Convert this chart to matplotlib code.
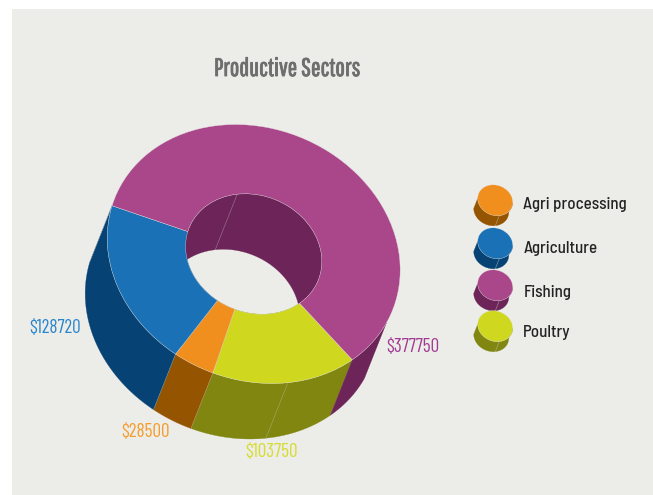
import numpy as np
import matplotlib
matplotlib.use("Agg")
import matplotlib.pyplot as plt
import matplotlib.patheffects as pe
from matplotlib import font_manager as fm
from matplotlib.patches import Polygon, Rectangle, Wedge
from matplotlib.transforms import Affine2D

sectors = ["Poultry", "Agri processing", "Agriculture", "Fishing"]
values = [103750, 28500, 128720, 377750]
legend_order = ["Agri processing", "Agriculture", "Fishing", "Poultry"]
top_colors = {"Agri processing": "#F18F1E", "Agriculture": "#1A71B6",
              "Fishing": "#AA478B", "Poultry": "#D0D71F"}
side_colors = {"Agri processing": "#955400", "Agriculture": "#064374",
               "Fishing": "#6C2459", "Poultry": "#80860F"}
label_colors = {"Agri processing": "#F49D2C", "Agriculture": "#2A86CC",
                "Fishing": "#A23A94", "Poultry": "#D6DC30"}

names = {f.name for f in fm.fontManager.ttflist}


def pick(*families):
    for family in families:
        if family in names:
            return family
    return "Roboto"


title_font = pick("Pathway Gothic One", "Barlow Condensed", "Roboto Condensed")
label_font = pick("Barlow Condensed", "Roboto Condensed", "Oswald")
legend_font = pick("Barlow Semi Condensed", "Barlow", "Roboto")

fig = plt.figure(figsize=(6.53, 4.95), dpi=100, facecolor="white")
ax = fig.add_axes([0, 0, 1, 1])
ax.set_xlim(0, 653)
ax.set_ylim(495, 0)
ax.axis("off")
ax.add_patch(Rectangle((12, 9), 641, 486, fc="#ECECE8", ec="none", zorder=0))

# Tilted disc: a unit circle sheared onto the page, then swept along a depth vector.
SHEAR = np.array([[146.5, 0.0], [16.0, 128.5]])
CENTER = np.array([253.7, 254.0])
DEPTH = np.array([-22.0, 55.5])
HOLE = 0.465
START = 47.7
RIGHT_EDGE = 385.0


def page_points(deg, radius, scale=1.0, center=CENTER):
    t = np.radians(deg)
    unit = radius * np.column_stack([np.cos(t), np.sin(t)])
    return center + scale * unit @ SHEAR.T


def disc_transform(scale=1.0, center=CENTER):
    m = np.eye(3)
    m[:2, :2] = SHEAR * scale
    m[:2, 2] = center
    return Affine2D(m) + ax.transData


def wall(a, b, radius, color, scale=1.0, center=CENTER, depth=DEPTH, z=2):
    arc = page_points(np.linspace(a, b, 90), radius, scale, center)
    ax.add_patch(Polygon(np.vstack([arc, (arc + depth)[::-1]]), closed=True,
                         fc=color, ec=color, lw=0.2, zorder=z))


angles = START + np.cumsum([0] + values) / sum(values) * 360

for name, a, b in zip(sectors, angles[:-1], angles[1:]):
    wall(a, b, HOLE, side_colors[name], z=2)
    # Only the near part of the big slice shows on the outside.
    wall(max(a, RIGHT_EDGE) if b > 360 else a, b, 1.0, side_colors[name], z=3)
    ax.add_patch(Wedge((0, 0), 1.0, a, b, width=1 - HOLE, fc=top_colors[name],
                       ec="#E4E4E0", lw=0.25, transform=disc_transform(), zorder=5))
    if b < 360:
        edge = page_points(np.array([b]), 1.0)[0]
        ax.plot([edge[0], edge[0] + DEPTH[0]], [edge[1], edge[1] + DEPTH[1]],
                color="#C8C8C0", lw=0.3, alpha=0.7, zorder=4)

# Hairline seams where the side surface closes on itself.
for deg, radius in [(76.5, 1.0), (256.0, HOLE)]:
    p = page_points(np.array([deg]), radius)[0]
    ax.plot([p[0], p[0] + DEPTH[0]], [p[1], p[1] + DEPTH[1]],
            color="#C8C8C0", lw=0.4, alpha=0.55, zorder=4)

# Value labels around the ring.
label_pos = {"Agriculture": (55.5, 328), "Fishing": (412.5, 347),
             "Agri processing": (145.5, 432), "Poultry": (271.5, 452)}
for name, value in zip(sectors, values):
    x, y = label_pos[name]
    ax.text(x, y, f"${value}", color=label_colors[name], ha="center", va="center",
            fontsize=13.8, family=label_font, zorder=6)

ax.text(287, 69, "Productive Sectors", color="#6E6E6E", ha="center", va="center",
        fontsize=18.2, family=title_font, zorder=6,
        path_effects=[pe.withStroke(linewidth=0.6, foreground="#6E6E6E")])

# Legend: small discs built from the same shear.
legend_y = [200.3, 243.3, 285.3, 326.2]
text_y = [205, 248, 292, 332]
ICON = 0.1195
for name, cy, ty in zip(legend_order, legend_y, text_y):
    c = np.array([495.2, cy])
    d = DEPTH * 0.18
    wall(0, 180, 1.0, side_colors[name], scale=ICON, center=c, depth=d, z=3)
    ax.add_patch(Wedge((0, 0), 1.0, 0, 360, fc=top_colors[name], ec="#E4E4E0", lw=0.2,
                       transform=disc_transform(ICON, c), zorder=5))
    p = page_points(np.array([76.5]), 1.0, ICON, c)[0]
    ax.plot([p[0], p[0] + d[0]], [p[1], p[1] + d[1]], color="#C8C8C0", lw=0.4,
            alpha=0.7, zorder=6)
    ax.text(523.3, ty, name, color="#232323", ha="left", va="center",
            fontsize=12.2, fontweight="medium", family=legend_font, zorder=6)

fig.savefig("out.png", dpi=100, facecolor="white")
